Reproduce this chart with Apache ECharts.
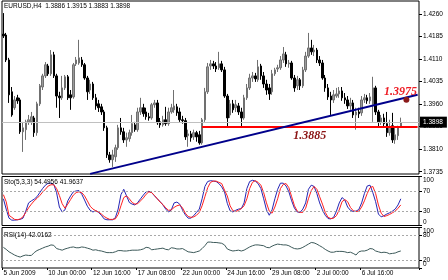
<!DOCTYPE html>
<html><head><meta charset="utf-8">
<script src="https://cdn.jsdelivr.net/npm/echarts@6/dist/echarts.min.js"></script>
<style>html,body{margin:0;padding:0;background:#fff}#c{width:448px;height:280px}</style>
</head><body><div id="c"></div>
<script>
// ---- data ----
const opens=[1.4193,1.4190,1.4107,1.4001,1.3948,1.3981,1.3974,1.3868,1.3875,1.3901,
1.3901,1.3914,1.3865,1.3961,1.4017,1.4054,1.4087,1.4061,1.4124,1.4054,
1.3987,1.3981,1.4014,1.4051,1.3991,1.3984,1.4094,1.4097,1.4107,1.4091,
1.4047,1.4007,1.4027,1.3981,1.3961,1.3951,1.3934,1.3881,1.3791,1.3775,
1.3785,1.3815,1.3881,1.3868,1.3841,1.3845,1.3865,1.3891,1.3875,1.3934,
1.3948,1.3934,1.3918,1.3914,1.3958,1.3964,1.3901,1.3891,1.3908,1.3895,
1.3934,1.3941,1.3951,1.3934,1.3908,1.3905,1.3855,1.3861,1.3851,1.3865,
1.3858,1.3831,1.3908,1.4001,1.4087,1.4094,1.4087,1.4081,1.4094,1.4074,
1.3987,1.3924,1.3961,1.3948,1.3954,1.3934,1.3914,1.3981,1.4014,1.4047,
1.4054,1.4041,1.4087,1.4054,1.4027,1.4014,1.4001,1.4061,1.4077,1.4081,
1.4107,1.4124,1.4094,1.4097,1.4047,1.4021,1.4041,1.4021,1.4074,1.4120,
1.4147,1.4134,1.4140,1.4107,1.4097,1.4047,1.4014,1.3987,1.3974,1.3987,
1.3994,1.4004,1.3981,1.3974,1.3954,1.3964,1.3924,1.3934,1.3931,1.3974,
1.3981,1.3971,1.3958,1.4014,1.3934,1.3901,1.3914,1.3895,1.3865,1.3888,
1.3841,1.3855,1.3886];
const closes=[1.4187,1.4107,1.3991,1.3924,1.3974,1.3971,1.3868,1.3881,1.3901,1.3908,
1.3918,1.3865,1.3961,1.4021,1.4054,1.4091,1.4061,1.4124,1.4054,1.3987,
1.3981,1.4014,1.4051,1.3981,1.3981,1.4091,1.4107,1.4114,1.4091,1.4047,
1.4001,1.4027,1.3981,1.3954,1.3948,1.3934,1.3881,1.3791,1.3775,1.3791,
1.3815,1.3881,1.3868,1.3841,1.3848,1.3865,1.3895,1.3875,1.3934,1.3948,
1.3928,1.3918,1.3914,1.3958,1.3964,1.3898,1.3891,1.3908,1.3895,1.3934,
1.3948,1.3954,1.3931,1.3908,1.3905,1.3851,1.3861,1.3848,1.3865,1.3851,
1.3831,1.3908,1.4001,1.4084,1.4094,1.4087,1.4077,1.4094,1.4074,1.3987,
1.3914,1.3961,1.3941,1.3958,1.3934,1.3914,1.3981,1.4014,1.4047,1.4054,
1.4044,1.4084,1.4054,1.4027,1.4007,1.3994,1.4061,1.4074,1.4081,1.4107,
1.4127,1.4094,1.4097,1.4047,1.4014,1.4041,1.4021,1.4074,1.4120,1.4147,
1.4134,1.4140,1.4107,1.4097,1.4047,1.4014,1.3984,1.3974,1.3991,1.3994,
1.4004,1.3981,1.3974,1.3954,1.3964,1.3924,1.3934,1.3928,1.3974,1.3981,
1.3971,1.3984,1.4014,1.3934,1.3901,1.3914,1.3895,1.3865,1.3885,1.3841,
1.3858,1.3885,1.3898];
const lows=[1.4180,1.4100,1.3964,1.3918,1.3941,1.3961,1.3861,1.3801,1.3841,1.3891,
1.3891,1.3851,1.3855,1.3954,1.4007,1.4047,1.4054,1.4054,1.4047,1.3948,
1.3914,1.3974,1.4007,1.3974,1.3941,1.3978,1.4087,1.4091,1.4084,1.4041,
1.3974,1.3994,1.3974,1.3941,1.3934,1.3924,1.3871,1.3781,1.3765,1.3751,
1.3768,1.3808,1.3858,1.3831,1.3818,1.3835,1.3855,1.3868,1.3868,1.3924,
1.3918,1.3908,1.3905,1.3908,1.3948,1.3891,1.3881,1.3885,1.3888,1.3888,
1.3928,1.3931,1.3921,1.3901,1.3895,1.3841,1.3818,1.3835,1.3841,1.3835,
1.3825,1.3825,1.3901,1.3994,1.4074,1.4077,1.4067,1.4074,1.4067,1.3981,
1.3885,1.3914,1.3931,1.3934,1.3924,1.3885,1.3908,1.3974,1.4007,1.4034,
1.4034,1.4034,1.4041,1.4014,1.3991,1.3974,1.3991,1.4054,1.4067,1.4074,
1.4097,1.4084,1.4081,1.4041,1.4001,1.4007,1.4007,1.4014,1.4067,1.4114,
1.4124,1.4120,1.4097,1.4087,1.4041,1.4001,1.3974,1.3924,1.3964,1.3981,
1.3981,1.3971,1.3961,1.3944,1.3941,1.3914,1.3875,1.3914,1.3921,1.3964,
1.3961,1.3961,1.3901,1.3924,1.3885,1.3891,1.3885,1.3851,1.3855,1.3831,
1.3828,1.3841,1.3883];
const highs=[1.4263,1.4197,1.4114,1.4017,1.3987,1.3991,1.3981,1.3901,1.3908,1.3924,
1.3934,1.3921,1.3968,1.4027,1.4061,1.4100,1.4094,1.4140,1.4134,1.4061,
1.4001,1.4054,1.4057,1.4057,1.4007,1.4097,1.4117,1.4174,1.4117,1.4097,
1.4054,1.4041,1.4034,1.3994,1.3974,1.3961,1.3941,1.3888,1.3801,1.3808,
1.3825,1.3891,1.3914,1.3881,1.3865,1.3875,1.3924,1.3901,1.3948,1.3981,
1.3961,1.3948,1.3931,1.3964,1.3974,1.3974,1.3914,1.3921,1.3951,1.3948,
1.3961,1.4007,1.3961,1.3948,1.3921,1.3914,1.3875,1.3871,1.3875,1.3871,
1.3871,1.3914,1.4014,1.4097,1.4107,1.4104,1.4100,1.4134,1.4104,1.4084,
1.3994,1.3974,1.3974,1.3974,1.3964,1.3948,1.3991,1.4027,1.4061,1.4067,
1.4064,1.4107,1.4094,1.4067,1.4041,1.4027,1.4074,1.4081,1.4091,1.4120,
1.4150,1.4134,1.4107,1.4104,1.4057,1.4054,1.4047,1.4084,1.4134,1.4197,
1.4174,1.4157,1.4147,1.4120,1.4107,1.4057,1.4027,1.4001,1.4007,1.4014,
1.4017,1.4017,1.3997,1.3987,1.3981,1.3974,1.3948,1.3948,1.3987,1.3994,
1.3991,1.3997,1.4051,1.4021,1.3941,1.3924,1.3928,1.3934,1.3908,1.3931,
1.3881,1.3888,1.3915];
const stochK=[54.5,33.5,15,10.9,10.9,11.7,12.5,15,29.3,46.1,
50.3,53.7,58.7,67.1,75.5,82.3,86.4,86.4,83.9,67.1,
37.7,27.6,31.9,50.3,60.4,68.8,70.5,71.3,63.8,52,
39.4,31,27.6,30.2,26.8,20.9,13.4,11.7,11.7,11.7,
15.9,33.5,62.9,73.9,60.4,47,43.6,41.9,47,54.5,
62.1,68.8,69.7,67.1,60.4,54.5,48.6,41.9,33.5,27.6,
31.9,46.1,47.8,43.6,31.9,21.8,15,15,20.1,26.8,
33.5,54.5,79.7,89.8,91.5,90.6,89.8,85.6,78.9,68.8,
45.3,30.2,27.6,31,33.5,34.4,46.1,75.5,89.8,92.3,
90.6,85.6,75.5,54.5,31.9,20.9,31.9,54.5,73.9,86.4,
86.4,80.6,68.8,50.3,35.2,27.6,26.8,33.5,46.1,73.9,
82.3,79.7,65.4,46.1,31.9,20.9,14.2,13.4,16.7,29.3,
46.1,57,52,37.7,31,28.5,29.3,32.7,46.1,65.4,
80.6,82.3,67.1,48.6,23.4,17.6,20.1,23.4,26,29.3,
33.5,41.9,54.4956];
const stochD=[62.9,48.6,20.9,16.7,12.5,11.7,13.4,17.6,26.8,36,
43.6,50.3,55.4,61.2,68,73.9,80.6,83.1,83.1,75.5,
61.2,44.5,35.2,43.6,52.9,62.1,67.1,68.8,67.1,60.4,
50.3,39.4,33.5,30.2,27.6,23.4,18.4,15,12.5,12.5,
13.4,22.6,40.3,57,60.4,54.5,47,43.6,44.5,50.3,
56.2,63.8,68.8,67.1,61.2,54.5,47.8,42.8,36,31,
31.9,36.9,40.3,41.9,36,25.1,18.4,16.7,17.6,20.9,
26.8,40.3,58.7,77.2,88.1,90.6,90.6,88.1,85.6,72.2,
60.4,40.3,30.2,28.5,31,34.4,40.3,54.5,75.5,88.1,
91.5,88.1,82.3,67.1,46.1,29.3,25.1,37.7,54.5,75.5,
83.9,85.6,77.2,58.7,40.3,29.3,26.8,26.8,35.2,54.5,
71.3,79.7,73.9,58.7,43.6,26.8,16.7,14.2,15,20.1,
31.9,48.6,52.9,48.6,36.9,30.2,28.5,29.3,37.7,50.3,
65.4,77.2,79.7,65.4,41.9,25.1,18.4,20.1,22.6,26,
29.3,35.2,41.9637];
const rsi=[51,46,40,36,32,29,27,30,32,31,
31,38,43,46,49,52,54,57,56,48,
46,44,47,49,51,52,50,50,52,51,
49,47,44,45,43,42,40,38,38,38,
40,43,43,42,42,43,44,44,44,45,
47,51,50,45,46,47,48,49,46,45,
50,49,47,47,48,44,40,39,38,40,
42,48,55,64,64,63,63,62,61,57,
47,44,42,43,44,42,44,48,52,55,
57,57,56,55,51,50,54,57,59,58,
57,57,55,51,48,47,48,51,55,59,
63,62,59,55,51,46,42,39,39,41,
41,41,40,38,39,36,32,40,42,42,
44,48,47,42,40,38,39,38,35,36,
37,40,42.0162];
const barCount=149;
const categories=Array.from({length:barCount},(_,i)=>String(i));
const timeTickIndex=[0,16,32,48,64,80,96,112,128];
const timeTickLabels=['5 Jun 2009','10 Jun 00:00','12 Jun 16:00','17 Jun 08:00','22 Jun 00:00','24 Jun 16:00','29 Jun 08:00','2 Jul 00:00','6 Jul 16:00'];
const priceTicks=[1.4260,1.4185,1.4110,1.4035,1.3960,1.3885,1.3810,1.3735];
const stochTicks=[0,30,70,100];
const stochLevels=[70,30];
const rsiBoundTicks=[0,100];
const rsiLevels=[80,20];
const lastPrice=1.3898;
const supportLevel=1.3885, supportStart=71, lineEnd=148;
const trendStart=[31,1.3728], trendEnd=[148,1.3991];
const targetPoint=[144,1.3975];
const header='EURUSD,H4  1.3886 1.3915 1.3883 1.3898';

// ---- chart ----
const FONT='"Liberation Sans", Arial, sans-serif';
const FS=6.5;
const chart=echarts.init(document.getElementById('c'),null,{renderer:'canvas'});
const candles=opens.map((o,i)=>[o,closes[i],lows[i],highs[i]]);
const gridBase={show:true,borderColor:'#000',borderWidth:1,containLabel:false};
function xA(g,showLabels){
  return {type:'category',gridIndex:g,data:categories,boundaryGap:true,
    axisLine:{show:false},
    axisTick:{show:showLabels,length:2,interval:(i)=>timeTickIndex.includes(i),lineStyle:{color:'#000'}},
    axisLabel:{show:showLabels,interval:(i)=>timeTickIndex.includes(i),
      formatter:(v,i)=>timeTickLabels[timeTickIndex.indexOf(i)]||'',
      align:'left',margin:2,fontSize:FS,fontFamily:FONT,color:'#000'},
    splitLine:{show:false}};
}
function yA(g,min,max,ticks,fmt,alignEnds){
  const lbl={customValues:ticks,formatter:fmt,fontSize:FS,fontFamily:FONT,color:'#000',margin:4,hideOverlap:false,
      showMinLabel:true,showMaxLabel:true};
  if(alignEnds){lbl.verticalAlignMinLabel='bottom';lbl.verticalAlignMaxLabel='top';}
  return {type:'value',gridIndex:g,position:'right',min:min,max:max,scale:true,
    axisLine:{show:false},
    axisTick:{show:true,length:3,customValues:ticks,lineStyle:{color:'#000'}},
    axisLabel:lbl,
    splitLine:{show:false}};
}
const option={
  animation:false,
  backgroundColor:'#fff',
  textStyle:{fontFamily:FONT},
  title:[
    {text:header,left:4,top:3,padding:0,textStyle:{fontSize:FS,fontWeight:'normal',color:'#000',fontFamily:FONT}},
    {text:'Sto(5,3,3) '+stochK[stochK.length-1]+' '+stochD[stochD.length-1],left:4,top:179,padding:0,textStyle:{fontSize:FS,fontWeight:'normal',color:'#000',fontFamily:FONT}},
    {text:'RSI(14) '+rsi[rsi.length-1],left:4,top:231.5,padding:0,textStyle:{fontSize:FS,fontWeight:'normal',color:'#000',fontFamily:FONT}}
  ],
  grid:[
    Object.assign({left:2,right:29,top:1,height:173},gridBase),
    Object.assign({left:2,right:29,top:176.5,height:49},gridBase),
    Object.assign({left:2,right:29,top:227.5,height:40.5},gridBase)
  ],
  xAxis:[xA(0,false),xA(1,false),xA(2,true)],
  yAxis:[
    yA(0,1.37275,1.43032,priceTicks,v=>v.toFixed(4),false),
    yA(1,0,100,stochTicks,v=>String(v),true),
    yA(2,0,100,rsiBoundTicks,v=>String(v),true),
    yA(2,0,100,rsiLevels,v=>String(v),false)
  ],
  series:[
    {type:'candlestick',xAxisIndex:0,yAxisIndex:0,data:candles,barWidth:2,
      itemStyle:{color:'#9a9a9a',color0:'#000',borderColor:'#707070',borderColor0:'#000',borderWidth:1},
      markLine:{silent:true,symbol:['none','none'],animation:false,
        data:[
          {yAxis:lastPrice,lineStyle:{color:'#c0c0c0',width:1,type:'solid'},
            label:{show:true,position:'end',distance:1,formatter:lastPrice.toFixed(4),backgroundColor:'#000',color:'#fff',
              fontSize:FS,fontFamily:FONT,padding:[2,4,2,3]}},
          [{coord:[supportStart,supportLevel],lineStyle:{color:'#ff0000',width:2,type:'solid'},
            label:{show:true,position:'insideMiddleBottom',distance:3,formatter:supportLevel.toFixed(4),color:'#8b1414',
              fontSize:12,fontStyle:'italic',fontWeight:'bold',fontFamily:'"Liberation Serif","Times New Roman",serif'}},
           {coord:[lineEnd,supportLevel]}],
          [{coord:trendStart,lineStyle:{color:'#00008b',width:2,type:'solid'},label:{show:false}},
           {coord:trendEnd}]
        ]},
      markPoint:{silent:true,animation:false,
        data:[{coord:targetPoint,symbol:'circle',symbolSize:6,itemStyle:{color:'#8b1a1a'},
          label:{show:true,position:'inside',offset:[-6,-8],formatter:targetPoint[1].toFixed(4),color:'#ee1c24',
            fontSize:12,fontStyle:'italic',fontWeight:'bold',fontFamily:'"Liberation Serif","Times New Roman",serif'}}]}
    },
    {type:'line',xAxisIndex:1,yAxisIndex:1,data:stochK,showSymbol:false,symbol:'none',
      lineStyle:{color:'#2525b5',width:1},
      markLine:{silent:true,symbol:['none','none'],label:{show:false},
        lineStyle:{color:'#a8a8a8',width:1,type:[2,2]},data:stochLevels.map(v=>({yAxis:v}))}},
    {type:'line',xAxisIndex:1,yAxisIndex:1,data:stochD,showSymbol:false,symbol:'none',
      lineStyle:{color:'#ff2020',width:1}},
    {type:'line',xAxisIndex:2,yAxisIndex:2,data:rsi,showSymbol:false,symbol:'none',
      lineStyle:{color:'#3d5a5a',width:1},
      markLine:{silent:true,symbol:['none','none'],label:{show:false},
        lineStyle:{color:'#a8a8a8',width:1,type:[2,2]},data:rsiLevels.map(v=>({yAxis:v}))}}
  ]
};
chart.setOption(option);
</script>
</body></html>
